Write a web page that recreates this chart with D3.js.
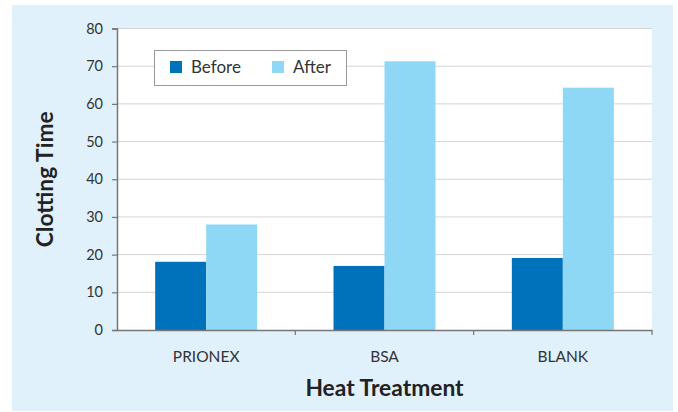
<!DOCTYPE html>
<html><head><meta charset="utf-8">
<script src="https://cdn.jsdelivr.net/npm/d3@7"></script>
<style>body{margin:0;background:#fff}svg{display:block}</style>
</head><body>
<svg id="c" width="678" height="412"></svg>
<script>
const categories = ["PRIONEX", "BSA", "BLANK"];
const seriesNames = ["Before", "After"];
const beforeValues = [18.1, 17.0, 19.1];
const afterValues = [28.0, 71.3, 64.3];
const yTicks = [0, 10, 20, 30, 40, 50, 60, 70, 80];
const colors = {Before: "#0071BB", After: "#8FD8F5"};

const svg = d3.select("#c");
const font = "Lato, 'Open Sans', sans-serif";
svg.append("rect").attr("x", 12).attr("y", 5).attr("width", 661).attr("height", 406).attr("fill", "#E0F1FB");

const m = {l: 117, r: 652, t: 28.5, b: 330};
svg.append("rect").attr("x", m.l).attr("y", m.t).attr("width", m.r - m.l).attr("height", m.b - m.t).attr("fill", "#fff");

const x = d3.scaleBand().domain(categories).range([m.l, m.r]).paddingInner(0).paddingOuter(0);
const y = d3.scaleLinear().domain([0, 80]).range([m.b, m.t]);
const x1 = d3.scaleBand().domain(seriesNames).range([0, 102]);

// gridlines
svg.append("g").selectAll("line").data(yTicks.filter(d => d > 0)).join("line")
  .attr("x1", m.l).attr("x2", m.r).attr("y1", d => y(d)).attr("y2", d => y(d))
  .attr("stroke", "#d4d4d4").attr("stroke-width", 1);

// bars
const data = categories.map((c, i) => ({c, vals: [{k: "Before", v: beforeValues[i]}, {k: "After", v: afterValues[i]}]}));
const g = svg.append("g").selectAll("g").data(data).join("g")
  .attr("transform", d => `translate(${x(d.c) + x.bandwidth() / 2 - 51},0)`);
g.selectAll("rect").data(d => d.vals).join("rect")
  .attr("x", d => x1(d.k)).attr("width", x1.bandwidth())
  .attr("y", d => y(d.v)).attr("height", d => y(0) - y(d.v))
  .attr("fill", d => colors[d.k]);

// y axis
const ya = svg.append("g").attr("transform", `translate(${m.l},0)`)
  .call(d3.axisLeft(y).tickValues(yTicks).tickSize(5).tickPadding(9));
ya.select(".domain").attr("stroke", "#777").attr("stroke-width", 1.5);
ya.selectAll(".tick line").attr("stroke", "#777").attr("stroke-width", 1.2);
ya.selectAll("text").attr("font-family", font).attr("font-size", 14.5).attr("fill", "#333");

// x axis
const xa = svg.append("g").attr("transform", `translate(0,${m.b})`)
  .call(d3.axisBottom(x).tickSize(0).tickPadding(21));
xa.select(".domain").attr("stroke", "#777").attr("stroke-width", 1.5);
xa.selectAll("text").attr("font-family", font).attr("font-size", 15.5).attr("fill", "#333");
svg.append("g").selectAll("line").data(categories).join("line")
  .attr("x1", d => x(d) + x.bandwidth()).attr("x2", d => x(d) + x.bandwidth())
  .attr("y1", m.b).attr("y2", m.b + 5).attr("stroke", "#777").attr("stroke-width", 1.2);

// axis titles
svg.append("text").attr("x", (m.l + m.r) / 2).attr("y", 396).attr("text-anchor", "middle")
  .attr("font-family", font).attr("font-weight", "bold").attr("font-size", 22.8).attr("fill", "#222")
  .text("Heat Treatment");
svg.append("text").attr("transform", `translate(53,${(m.t + m.b) / 2}) rotate(-90)`).attr("text-anchor", "middle")
  .attr("font-family", font).attr("font-weight", "bold").attr("font-size", 22.8).attr("fill", "#222")
  .text("Clotting Time");

// legend
const lg = svg.append("g");
lg.append("rect").attr("x", 154.5).attr("y", 50.5).attr("width", 192).attr("height", 35)
  .attr("fill", "#fff").attr("stroke", "#999").attr("stroke-width", 1);
const lx = [170, 272];
const li = lg.selectAll("g").data(seriesNames).join("g").attr("transform", (d, i) => `translate(${lx[i]},61)`);
li.append("rect").attr("width", 12).attr("height", 12).attr("fill", d => colors[d]);
li.append("text").attr("x", 21).attr("y", 12).attr("font-family", font).attr("font-size", 17).attr("fill", "#333").text(d => d);
</script>
</body></html>
